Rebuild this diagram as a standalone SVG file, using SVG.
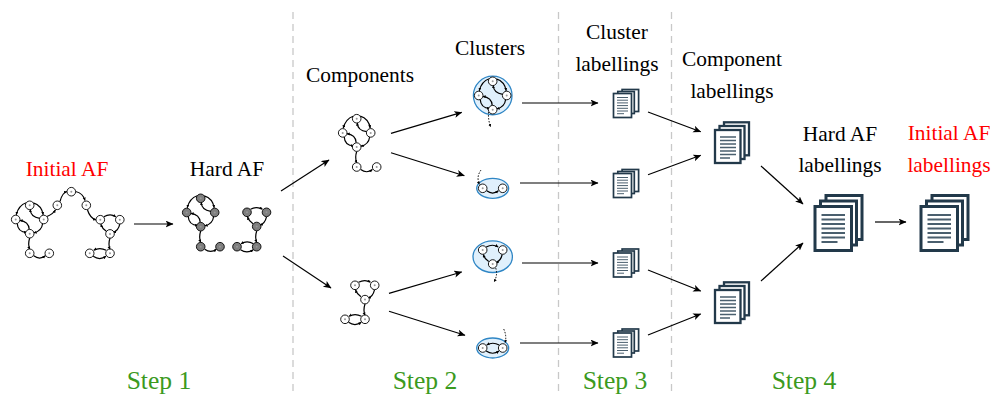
<svg xmlns="http://www.w3.org/2000/svg" width="994" height="396" viewBox="0 0 994 396">
<style>
text{font-family:"Liberation Serif","Times New Roman",serif;font-size:21.4px;fill:#000;text-anchor:middle}
.red{fill:#f00}
.step{fill:#3b9a1e;font-size:25.6px}
.div{stroke:#c8c8c8;stroke-width:1.3;stroke-dasharray:7 5;fill:none}
.a{stroke:#000;stroke-width:1.2;fill:none;marker-end:url(#big)}
.e{stroke:#000;stroke-width:1.2;fill:none;marker-end:url(#small)}
.d{stroke:#000;stroke-width:1;fill:none;stroke-dasharray:1.5 1.5;marker-end:url(#small)}
.n{stroke:#000;stroke-width:.9}
.g{fill:#fff}
.h{fill:#7f7f7f}
.cl{fill:#e0f0fc;stroke:#2f86c5;stroke-width:1.3}
.p{fill:#fff;stroke:#22394a}
.l{stroke:#4a5f6e;fill:none}
</style>
<defs>
<marker id="big" markerWidth="9" markerHeight="8" refX="7.500" refY="3.500" orient="auto" markerUnits="userSpaceOnUse"><path d="M0,0L8,3.500L0,7L2,3.500Z" fill="#000"/></marker>
<marker id="small" markerWidth="4" markerHeight="4" refX="3" refY="1.500" orient="auto" markerUnits="userSpaceOnUse"><path d="M0,0L3,1.500L0,3Z" fill="#000"/></marker>
<g id="n"><circle class="n" r="4.300"/><circle r="1" fill="#999"/></g>
<g id="de">
<path class="e" d="M-3.500,-2.500Q-11,0 -13.500,9.500"/>
<path class="e" d="M3.500,-2.500Q12,0 13.500,9.500"/>
<path class="e" d="M10,13Q1,12 .5,4"/>
<path class="e" d="M-12.500,18Q-12,27 -3,27"/>
<path class="e" d="M-.5,24Q-1,16 -10,15"/>
<path class="e" d="M13,18Q12,26 4,27.500"/>
</g>
<g id="te">
<path class="e" d="M3.500,-3Q10,-6.500 15.500,-3"/>
<path class="e" d="M19.500,4.500Q18,11 13,13"/>
<path class="e" d="M6,11.500Q2,9 .5,4.500"/>
</g>
<g id="le">
<path class="e" d="M3.500,3Q10,7.500 16.300,3"/>
<path class="e" d="M16.500,-3Q10,-6.500 4,-3"/>
</g>
<path id="pe" class="e" d="M4,2.500Q10,7 15.700,2.500"/>
<path id="ve" class="e" d="M0,0Q-2,6 0,11.500"/>
<g id="s1" stroke-width="1.700">
<rect class="p" x="8.600" y="-4" width="16.500" height="22"/>
<rect class="p" x="4.300" y="-2" width="16.500" height="22"/>
<rect class="p" x="0" y="0" width="18" height="24"/>
<path class="l" stroke-width="1" d="M3.500,4h11M3.500,6.700h11M3.500,9.400h11M3.500,12.100h11M3.500,14.800h11M3.500,17.500h11M3.500,20.200h7"/>
</g>
<g id="s2" stroke-width="2.300">
<rect class="p" x="9" y="-7.700" width="25" height="33"/>
<rect class="p" x="4.500" y="-4" width="25" height="33"/>
<rect class="p" x="0" y="0" width="25.500" height="33"/>
<path class="l" stroke-width="1.400" d="M5,7h16M5,10.500h16M5,14h16M5,17.500h16M5,21h16M5,24.500h16M5,28h10"/>
</g>
<g id="s3" stroke-width="3">
<rect class="p" x="11" y="-11" width="36" height="44"/>
<rect class="p" x="5.500" y="-5.500" width="36" height="44"/>
<rect class="p" x="0" y="0" width="36.500" height="44"/>
<path class="l" stroke-width="1.800" d="M6.500,8.500h23.500M6.500,13h23.500M6.500,17.500h23.500M6.500,22h23.500M6.500,26.500h23.500M6.500,31h23.500M6.500,35.500h16"/>
</g>
</defs>

<g id="dividers">
<path class="div" d="M293,12V396"/>
<path class="div" d="M558.500,12V396"/>
<path class="div" d="M671.500,12V396"/>
</g>

<g id="connectors">
<path class="a" d="M134,224H173"/>
<path class="a" d="M281,191L329,160"/>
<path class="a" d="M283,256L331,288"/>
<path class="a" d="M391,133.300L461.700,112.300"/>
<path class="a" d="M391,152.700L464.300,175.700"/>
<path class="a" d="M389,293.300L461.700,272"/>
<path class="a" d="M389,311.300L465,335.300"/>
<path class="a" d="M522,103H598"/>
<path class="a" d="M520,183H598"/>
<path class="a" d="M522,263H598"/>
<path class="a" d="M520,343H598"/>
<path class="a" d="M648,112L700.700,131.700"/>
<path class="a" d="M648,174.700L700.700,155.300"/>
<path class="a" d="M648,270L700.700,291"/>
<path class="a" d="M648,335L700.700,314"/>
<path class="a" d="M761,166L803,204"/>
<path class="a" d="M761,281L803,243"/>
<path class="a" d="M875,222H906"/>
</g>

<g id="initial-af" class="g">
<g id="initial-af-edges">
<use href="#de" x="29.700" y="205.300"/>
<path class="e" d="M47,216.500Q53,214 55.500,209.800"/>
<path class="e" d="M60,201.500Q62,193 67,191.500"/>
<path class="e" d="M75.500,191.500Q83,193 85,200.500"/>
<path class="e" d="M87.500,210Q90,218 96,220"/>
<use href="#te" x="100.300" y="219.700"/>
<use href="#ve" x="110" y="238"/>
<use href="#le" x="89.700" y="253.300"/>
<use href="#ve" x="29.700" y="238"/>
<use href="#pe" x="29.700" y="253.300"/>
</g>
<g id="i-a"><use href="#n" x="71.300" y="191.700"/></g>
<g id="i-b"><use href="#n" x="57.300" y="205.300"/></g>
<g id="i-c"><use href="#n" x="86.300" y="205.300"/></g>
<g id="i-d1"><use href="#n" x="29.700" y="205.300"/></g>
<g id="i-d2"><use href="#n" x="15.700" y="219.500"/></g>
<g id="i-d3"><use href="#n" x="43.700" y="219.500"/></g>
<g id="i-d4"><use href="#n" x="29.700" y="233.700"/></g>
<g id="i-g"><use href="#n" x="29.700" y="253.300"/></g>
<g id="i-h"><use href="#n" x="49.300" y="253.300"/></g>
<g id="i-t1"><use href="#n" x="100.300" y="219.700"/></g>
<g id="i-t2"><use href="#n" x="119.800" y="219.700"/></g>
<g id="i-t3"><use href="#n" x="110" y="233.900"/></g>
<g id="i-l1"><use href="#n" x="89.700" y="253.300"/></g>
<g id="i-l2"><use href="#n" x="110" y="253.300"/></g>
</g>

<g id="hard-af" class="h">
<g id="hard-af-edges">
<use href="#de" x="200.700" y="198.300"/>
<use href="#ve" x="200.700" y="231"/>
<use href="#pe" x="200.700" y="246.700"/>
<use href="#te" x="247" y="212.300"/>
<use href="#ve" x="256.700" y="231"/>
<use href="#le" x="237" y="246.700"/>
</g>
<g id="h-d1"><use href="#n" x="200.700" y="198.300"/></g>
<g id="h-d2"><use href="#n" x="186.700" y="212.500"/></g>
<g id="h-d3"><use href="#n" x="214.700" y="212.500"/></g>
<g id="h-d4"><use href="#n" x="200.700" y="226.700"/></g>
<g id="h-g"><use href="#n" x="200.700" y="246.700"/></g>
<g id="h-h"><use href="#n" x="220" y="246.700"/></g>
<g id="h-t1"><use href="#n" x="247" y="212.300"/></g>
<g id="h-t2"><use href="#n" x="266.500" y="212.300"/></g>
<g id="h-t3"><use href="#n" x="256.700" y="226.500"/></g>
<g id="h-l1"><use href="#n" x="237" y="246.700"/></g>
<g id="h-l2"><use href="#n" x="256.700" y="246.700"/></g>
</g>

<g id="component-1" class="g">
<g id="c1-edges">
<use href="#de" x="356.700" y="118.700"/>
<use href="#ve" x="356.700" y="151.500"/>
<use href="#pe" x="356.700" y="167"/>
</g>
<g id="c1-d1"><use href="#n" x="356.700" y="118.700"/></g>
<g id="c1-d2"><use href="#n" x="342.700" y="132.900"/></g>
<g id="c1-d3"><use href="#n" x="370.700" y="132.900"/></g>
<g id="c1-d4"><use href="#n" x="356.700" y="147.100"/></g>
<g id="c1-g"><use href="#n" x="356.700" y="167"/></g>
<g id="c1-h"><use href="#n" x="376.700" y="167"/></g>
</g>

<g id="component-2" class="g">
<g id="c2-edges">
<use href="#te" x="355" y="285.300"/>
<use href="#ve" x="365" y="304"/>
<use href="#le" x="345" y="319.300"/>
</g>
<g id="c2-t1"><use href="#n" x="355" y="285.300"/></g>
<g id="c2-t2"><use href="#n" x="374.700" y="285.300"/></g>
<g id="c2-t3"><use href="#n" x="365" y="299.600"/></g>
<g id="c2-l1"><use href="#n" x="345" y="319.300"/></g>
<g id="c2-l2"><use href="#n" x="365" y="319.300"/></g>
</g>

<g id="cluster-1" class="g">
<circle class="cl" cx="492.700" cy="95.500" r="19.300"/>
<g id="cl1-edges">
<use href="#de" x="492.700" y="81.300"/>
<path class="d" d="M488.500,112Q488,120 490.700,127"/>
</g>
<g id="cl1-d1"><use href="#n" x="492.700" y="81.300"/></g>
<g id="cl1-d2"><use href="#n" x="478.700" y="95.500"/></g>
<g id="cl1-d3"><use href="#n" x="506.700" y="95.500"/></g>
<g id="cl1-d4"><use href="#n" x="492.700" y="109.700"/></g>
</g>

<g id="cluster-2" class="g">
<ellipse class="cl" cx="492.700" cy="188.300" rx="16" ry="10"/>
<g id="cl2-edges">
<use href="#pe" x="482.700" y="188.300"/>
<path class="d" d="M481,170Q476,177 479.500,184.500"/>
</g>
<g id="cl2-g"><use href="#n" x="482.700" y="188.300"/></g>
<g id="cl2-h"><use href="#n" x="502.700" y="188.300"/></g>
</g>

<g id="cluster-3" class="g">
<ellipse class="cl" cx="492.700" cy="256.700" rx="19.700" ry="15.800"/>
<g id="cl3-edges">
<use href="#te" x="482.700" y="250"/>
<path class="d" d="M495.700,268Q498,275 494,282"/>
</g>
<g id="cl3-t1"><use href="#n" x="482.700" y="250"/></g>
<g id="cl3-t2"><use href="#n" x="502.700" y="250"/></g>
<g id="cl3-t3"><use href="#n" x="492.700" y="264"/></g>
</g>

<g id="cluster-4" class="g">
<ellipse class="cl" cx="492.700" cy="348" rx="16" ry="10"/>
<g id="cl4-edges">
<use href="#le" x="482.700" y="348"/>
<path class="d" d="M503.700,329Q507,336 505,343"/>
</g>
<g id="cl4-l1"><use href="#n" x="482.700" y="348"/></g>
<g id="cl4-l2"><use href="#n" x="502.700" y="348"/></g>
</g>

<g id="cluster-labellings-1"><use href="#s1" x="613.500" y="93.500"/></g>
<g id="cluster-labellings-2"><use href="#s1" x="613.500" y="173.500"/></g>
<g id="cluster-labellings-3"><use href="#s1" x="613.500" y="253"/></g>
<g id="cluster-labellings-4"><use href="#s1" x="613.500" y="333"/></g>
<g id="component-labellings-1"><use href="#s2" x="715" y="130"/></g>
<g id="component-labellings-2"><use href="#s2" x="715" y="290"/></g>
<g id="hard-af-labellings"><use href="#s3" x="815" y="206.500"/></g>
<g id="initial-af-labellings"><use href="#s3" x="921" y="206.500"/></g>

<g id="labels">
<text class="red" x="67" y="176">Initial AF</text>
<text x="227" y="176">Hard AF</text>
<text x="360" y="82">Components</text>
<text x="490" y="55">Clusters</text>
<text x="617" y="39">Cluster</text>
<text x="617" y="71">labellings</text>
<text x="732" y="66">Component</text>
<text x="732" y="98">labellings</text>
<text x="840" y="141">Hard AF</text>
<text x="840" y="172">labellings</text>
<text class="red" x="949" y="140">Initial AF</text>
<text class="red" x="949" y="172">labellings</text>
<text class="step" x="159" y="389">Step 1</text>
<text class="step" x="425" y="389">Step 2</text>
<text class="step" x="615" y="389">Step 3</text>
<text class="step" x="804" y="389">Step 4</text>
</g>
</svg>
